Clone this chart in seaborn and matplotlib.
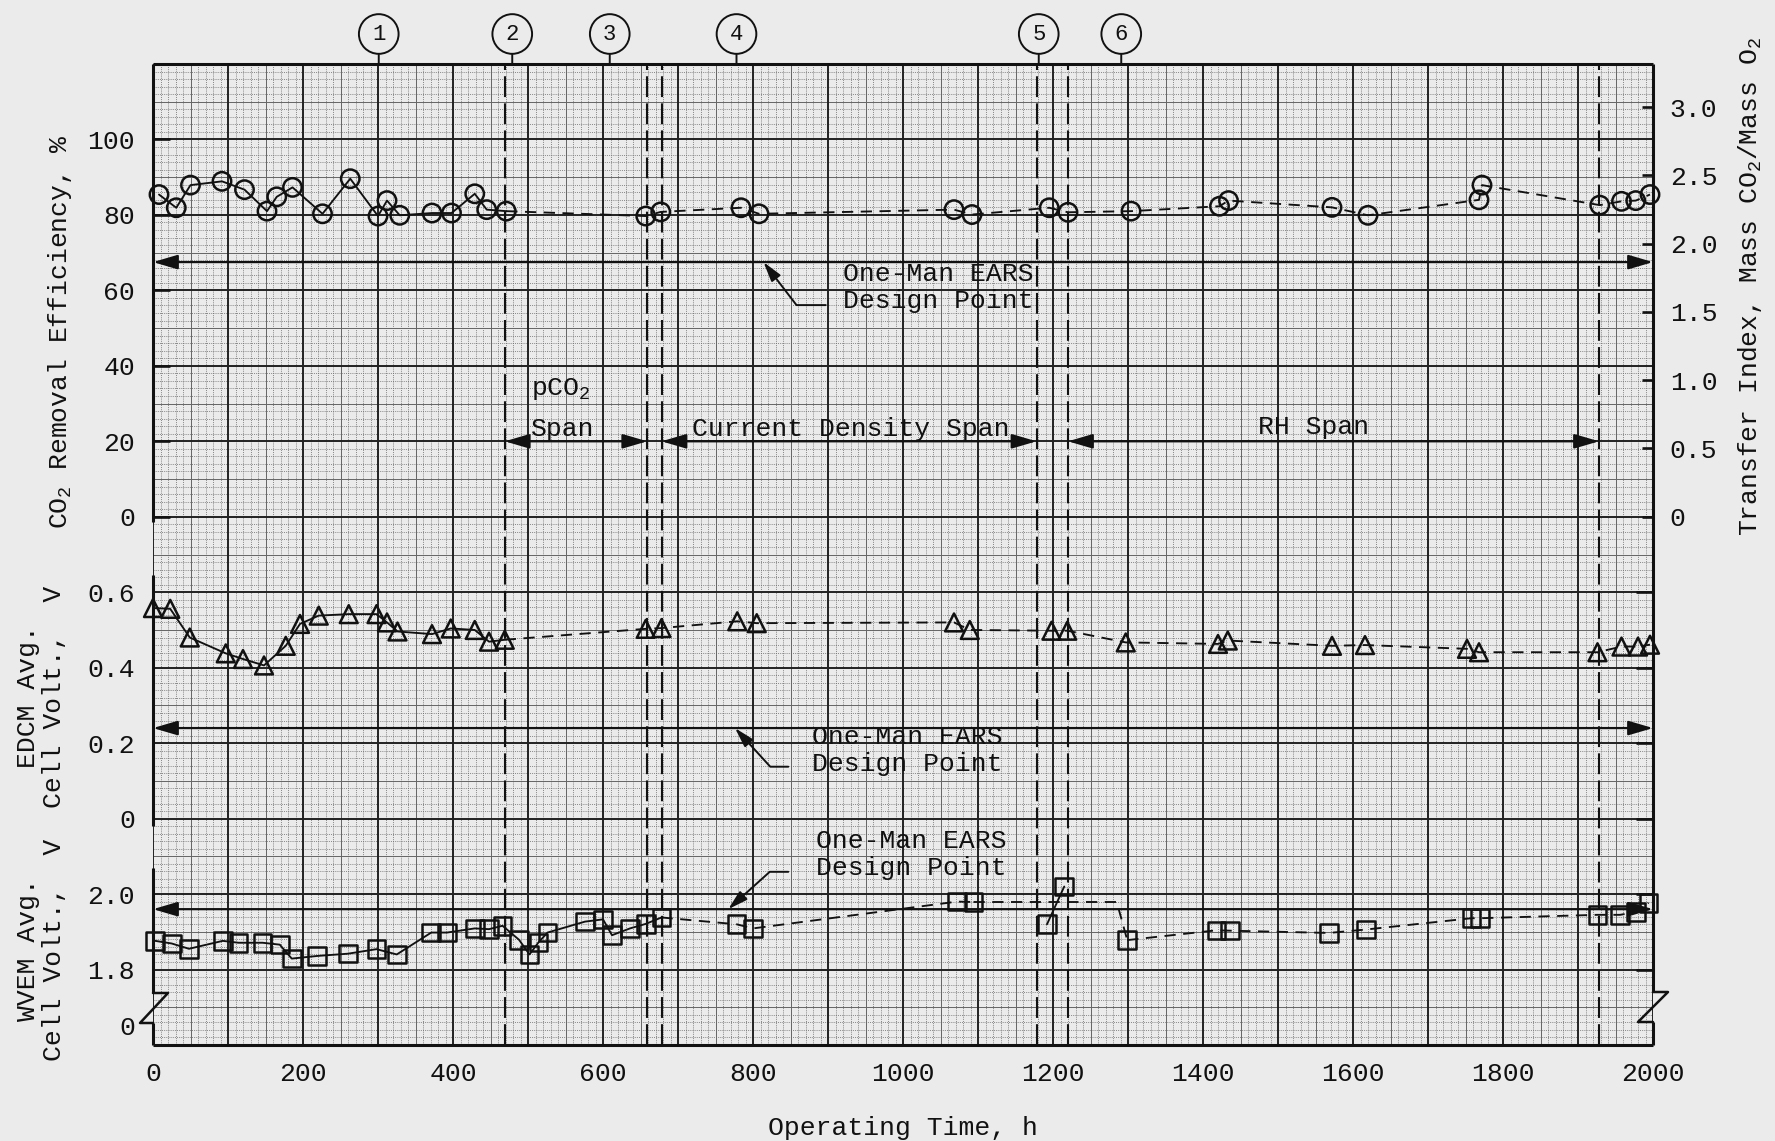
import matplotlib
matplotlib.use("Agg")
import matplotlib.pyplot as plt
from matplotlib.lines import Line2D
import numpy as np
import pandas as pd
import seaborn as sns

# ---------------------------------------------------------------- data
hour_ticks = list(range(0, 2001, 200))

# CO2 removal efficiency, %
co2_hours = [8, 31, 50, 92, 122, 152, 165, 186, 226, 263, 300, 312, 329, 372,
             398, 429, 445, 471, 657, 677, 784, 808, 1068, 1092, 1195, 1220,
             1304, 1422, 1434, 1572, 1620, 1768, 1772, 1929, 1958, 1977, 1996]
co2_eff = [85.4, 81.9, 87.9, 88.9, 86.7, 81.0, 84.8, 87.3, 80.3, 89.6, 79.7,
           83.8, 79.9, 80.5, 80.5, 85.6, 81.4, 81.0, 79.7, 80.8, 81.9, 80.3,
           81.4, 80.1, 81.9, 80.7, 81.0, 82.3, 83.8, 82.0, 79.9, 84.0, 87.9,
           82.6, 83.6, 83.8, 85.4]
co2_ticks = [0, 20, 40, 60, 80, 100]
transfer_ticks = [0, 0.5, 1.0, 1.5, 2.0, 2.5, 3.0]
transfer_labels = ["0", "0.5", "1.0", "1.5", "2.0", "2.5", "3.0"]

# EDCM average cell voltage, V
edcm_hours = [0, 23, 49, 97, 120, 148, 177, 196, 221, 261, 298, 312, 326, 372,
              397, 429, 448, 469, 657, 678, 779, 805, 1068, 1089, 1198, 1219,
              1297, 1420, 1433, 1572, 1616, 1752, 1768, 1926, 1958, 1980, 1996]
edcm_volt = [0.558, 0.556, 0.480, 0.438, 0.423, 0.406, 0.458, 0.516, 0.538,
             0.542, 0.542, 0.520, 0.496, 0.489, 0.504, 0.500, 0.469, 0.474,
             0.503, 0.505, 0.523, 0.518, 0.520, 0.500, 0.498, 0.498, 0.467,
             0.463, 0.472, 0.458, 0.460, 0.450, 0.441, 0.441, 0.456, 0.456,
             0.461]
edcm_ticks = [0, 0.2, 0.4, 0.6]
edcm_labels = ["0", "0.2", "0.4", "0.6"]

# WVEM average cell voltage, V
wvem_hours = [3, 25, 48, 93, 114, 146, 169, 185, 219, 260, 298, 325, 371, 392,
              429, 448, 466, 488, 502, 514, 526, 576, 600, 612, 636, 657, 678,
              778, 800, 1072, 1094, 1192, 1215, 1299, 1418, 1436, 1568, 1617,
              1758, 1769, 1926, 1956, 1977, 1994]
wvem_volt = [1.876, 1.869, 1.855, 1.876, 1.871, 1.871, 1.866, 1.829, 1.836,
             1.842, 1.854, 1.840, 1.898, 1.898, 1.909, 1.907, 1.916, 1.879,
             1.840, 1.872, 1.898, 1.927, 1.933, 1.891, 1.909, 1.921, 1.938,
             1.920, 1.909, 1.980, 1.979, 1.920, 2.020, 1.878, 1.904, 1.903,
             1.897, 1.906, 1.936, 1.936, 1.945, 1.945, 1.952, 1.977]
wvem_step_hours = [1094, 1285, 1299]
wvem_step_volt = [1.979, 1.979, 1.878]
wvem_link_hours = [1192, 1215]
wvem_link_volt = [1.920, 2.020]
wvem_ticks = [1.8, 2.0]
wvem_labels = ["1.8", "2.0"]
wvem_zero_mark = 1.653          # where the broken axis shows its "0"

# test phases
boundary_hours = [469, 659, 678, 1178, 1220, 1928]
event_hours = [301, 479, 609, 778, 1181, 1291]
event_labels = ["1", "2", "3", "4", "5", "6"]
span_start = [469, 678, 1220]
span_end = [659, 1178, 1928]
span_level = 20                 # % on the efficiency scale

# one-man EARS design points
design_co2 = 67.5
design_edcm = 0.24
design_wvem = 1.96

# ---------------------------------------------------------------- style
PAPER = "#ebebeb"
INK = "#111111"
sns.set_style("white")
plt.rcParams.update({
    "font.family": ["Liberation Mono", "DejaVu Sans Mono"],
    "font.size": 19,
    "mathtext.fontset": "custom",
    "mathtext.rm": "Liberation Mono",
    "mathtext.it": "Liberation Mono",
    "mathtext.bf": "Liberation Mono",
    "text.color": INK,
    "axes.labelcolor": INK,
    "xtick.color": INK,
    "ytick.color": INK,
})

W, H = 1775, 1141
L, R, T, B = 153, 1653, 64, 1045
ROWS = 13
fig = plt.figure(figsize=(W / 100, H / 100), dpi=100, facecolor=PAPER)
rect = [L / W, 1 - B / H, (R - L) / W, (B - T) / H]

# ---------------------------------------------------------------- graph paper
paper = fig.add_axes(rect, label="paper")
paper.set_facecolor(PAPER)
paper.vlines(np.arange(0, 2001, 10), 0, ROWS, colors="#6c6c6c", lw=0.55,
             linestyles=(0, (1.3, 1.5)), zorder=0.2)
paper.hlines(np.linspace(0, ROWS, ROWS * 10 + 1), 0, 2000, colors="#6c6c6c",
             lw=0.55, linestyles=(0, (1.3, 1.5)), zorder=0.2)
paper.vlines(np.arange(50, 2000, 100), 0, ROWS, colors="#666666", lw=0.7, zorder=0.3)
paper.hlines(np.arange(0.5, ROWS, 1.0), 0, 2000, colors="#666666", lw=0.7, zorder=0.3)
paper.vlines(np.arange(0, 2001, 100), 0, ROWS, colors="#222222", lw=1.4, zorder=0.4)
paper.hlines(np.arange(0, ROWS + 1, 1.0), 0, 2000, colors="#222222", lw=1.4, zorder=0.4)
paper.vlines(boundary_hours, 0, ROWS, colors=INK, lw=1.5,
             linestyles=(0, (10, 3)), zorder=0.6)
paper.set_xlim(0, 2000)
paper.set_ylim(0, ROWS)
for s in paper.spines.values():
    s.set_visible(False)
paper.set_yticks([])
paper.set_xticks(hour_ticks)
paper.set_xticklabels([str(h) for h in hour_ticks])
paper.tick_params(axis="x", length=0, pad=12, labelsize=19)
paper.set_xlabel("Operating Time, h", labelpad=22, fontsize=19)

# frame: heavy top/bottom/right, left edge broken between the scales
frame = dict(color=INK, lw=2.2, transform=paper.transAxes, clip_on=False,
             solid_capstyle="butt")
fy = lambda py: (B - py) / (B - T)
paper.add_line(Line2D([0, 1], [1, 1], **frame))
paper.add_line(Line2D([0, 1], [0, 0], **frame))
paper.add_line(Line2D([1, 1], [1, fy(992)], **frame))
paper.add_line(Line2D([1, 1], [fy(1022), 0], **frame))
for top, bot in [(64, 522), (575, 826), (868, 993), (1023, 1045)]:
    paper.add_line(Line2D([0, 0], [fy(top), fy(bot)], **frame))
fx = lambda px: (px - L) / (R - L)
zz = dict(color=INK, lw=1.8, transform=paper.transAxes, clip_on=False)
paper.add_line(Line2D([fx(153), fx(168), fx(140), fx(153)],
                      [fy(993), fy(993), fy(1023), fy(1023)], **zz))
paper.add_line(Line2D([fx(1653), fx(1668), fx(1638), fx(1653)],
                      [fy(992), fy(992), fy(1022), fy(1022)], **zz))

# circled phase markers above the frame
for h, lab in zip(event_hours, event_labels):
    paper.annotate(lab, xy=(h, 1), xycoords=("data", "axes fraction"),
                   xytext=(0, 30), textcoords="offset pixels",
                   ha="center", va="center", fontsize=16,
                   bbox=dict(boxstyle="circle,pad=0.42", fc="none", ec=INK, lw=1.4),
                   arrowprops=dict(arrowstyle="-", lw=1.4, color=INK,
                                   shrinkA=0, shrinkB=0),
                   annotation_clip=False)


# ---------------------------------------------------------------- scales
def limits(value, row, per_row):
    return value - row * per_row, value + (ROWS - row) * per_row


def overlay(name, lo, hi):
    ax = fig.add_axes(rect, label=name)
    ax.patch.set_visible(False)
    for s in ax.spines.values():
        s.set_visible(False)
    ax.set_xlim(0, 2000)
    ax.set_ylim(lo, hi)
    ax.set_xticks([])
    return ax


TICK = dict(direction="in", width=1.9, labelsize=19, pad=13)

ax_co2 = overlay("co2", *limits(0, 7, 20))
ax_ti = ax_co2.twinx()
ax_ti.patch.set_visible(False)
for s in ax_ti.spines.values():
    s.set_visible(False)
ax_ti.set_ylim(*limits(0, 7, 1 / 1.81))
ax_ti.set_xticks([])

ax_edcm = overlay("edcm", *limits(0, 3, 0.2))
ax_wvem = overlay("wvem", *limits(2.0, 2, 0.2))

ax_co2.set_yticks(co2_ticks)
ax_co2.set_yticklabels([str(v) for v in co2_ticks])
ax_co2.tick_params(axis="y", length=12, **TICK)
ax_ti.set_yticks(transfer_ticks)
ax_ti.set_yticklabels(transfer_labels)
ax_ti.tick_params(axis="y", length=8, direction="in", width=1.9,
                  labelsize=19, pad=12)
ax_edcm.set_yticks(edcm_ticks)
ax_edcm.set_yticklabels(edcm_labels)
ax_edcm.tick_params(axis="y", length=12, right=True, labelright=False, **TICK)
ax_wvem.set_yticks([wvem_zero_mark] + wvem_ticks)
ax_wvem.set_yticklabels(["0"] + wvem_labels)
ax_wvem.tick_params(axis="y", length=12, right=True, labelright=False, **TICK)
first = ax_wvem.yaxis.get_major_ticks()[0]
first.tick1line.set_visible(False)
first.tick2line.set_visible(False)


# ---------------------------------------------------------------- series
DASH = (0, (6, 4))


def trace(ax, frame_, ls="-"):
    sns.lineplot(data=frame_, x="h", y="v", ax=ax, sort=False, estimator=None,
                 color=INK, lw=1.35, linestyle=ls, zorder=3)


def points(ax, frame_, marker, size):
    sns.scatterplot(data=frame_, x="h", y="v", ax=ax, marker=marker, s=size,
                    color=INK, linewidth=1.8, zorder=4, clip_on=False)
    ax.collections[-1].set_facecolor("none")
    ax.collections[-1].set_edgecolor(INK)


co2 = pd.DataFrame({"h": co2_hours, "v": co2_eff})
trace(ax_co2, co2[co2.h <= 471])
trace(ax_co2, co2[co2.h >= 471], DASH)
points(ax_co2, co2, "o", 175)

edcm = pd.DataFrame({"h": edcm_hours, "v": edcm_volt})
trace(ax_edcm, edcm[edcm.h <= 469])
trace(ax_edcm, edcm[edcm.h >= 469], DASH)
points(ax_edcm, edcm, "^", 165)

wvem = pd.DataFrame({"h": wvem_hours, "v": wvem_volt})
trace(ax_wvem, wvem[wvem.h <= 678])
trace(ax_wvem, wvem[(wvem.h >= 678) & (wvem.h <= 1094)], DASH)
trace(ax_wvem, pd.DataFrame({"h": wvem_step_hours, "v": wvem_step_volt}), DASH)
trace(ax_wvem, pd.DataFrame({"h": wvem_link_hours, "v": wvem_link_volt}))
trace(ax_wvem, wvem[wvem.h >= 1299], DASH)
points(ax_wvem, wvem, "s", 160)

for ax in (ax_co2, ax_edcm, ax_wvem):
    ax.set_xlabel("")
    ax.set_ylabel("")
    ax.set_xlim(0, 2000)
ax_co2.set_ylim(*limits(0, 7, 20))
ax_edcm.set_ylim(*limits(0, 3, 0.2))
ax_wvem.set_ylim(*limits(2.0, 2, 0.2))

# ---------------------------------------------------------------- annotations
BOTH = dict(arrowstyle="<|-|>,head_length=0.75,head_width=0.22",
            mutation_scale=20, lw=1.6, color=INK, shrinkA=0, shrinkB=0)
for ax, level in [(ax_co2, design_co2), (ax_edcm, design_edcm),
                  (ax_wvem, design_wvem)]:
    ax.annotate("", xy=(0, level), xytext=(2000, level), arrowprops=BOTH,
                annotation_clip=False)

for a, b in zip(span_start, span_end):
    ax_co2.annotate("", xy=(a, span_level), xytext=(b, span_level),
                    arrowprops=BOTH, annotation_clip=False)
ax_co2.text(504, 32.4, "pCO$_2$", va="baseline")
ax_co2.text(504, 21.3, "Span", va="baseline")
ax_co2.text(719, 21.3, "Current Density Span", va="baseline")
ax_co2.text(1548, 21.9, "RH Span", ha="center", va="baseline")


def leader(ax, tip_h, level, start_h, start_v, angle, text_h, text_v):
    ax.annotate("", xy=(tip_h, level), xytext=(start_h, start_v),
                arrowprops=dict(arrowstyle="-|>,head_length=0.6,head_width=0.17",
                                mutation_scale=20, lw=1.4, color=INK,
                                shrinkA=0, shrinkB=0,
                                connectionstyle=f"angle,angleA=0,angleB={angle},rad=0"))
    ax.text(text_h, text_v, "One-Man EARS\nDesign Point", ha="left",
            va="center", linespacing=1.15)


leader(ax_co2, 814, design_co2, 897, 56.1, -52.5, 920, 60.7)
leader(ax_edcm, 776, design_edcm, 847, 0.1376, -47.6, 879, 0.1806)
leader(ax_wvem, 767, design_wvem, 847, 2.059, 42.0, 884, 2.104)

# ---------------------------------------------------------------- axis titles
fig.text(60 / W, 1 - 332 / H, "CO$_2$ Removal Efficiency, %", rotation=90,
         ha="center", va="center", fontsize=19)
fig.text(41 / W, 1 - 697 / H, "EDCM Avg.\nCell Volt.,  V", rotation=90,
         ha="center", va="center", multialignment="center", fontsize=19,
         linespacing=1.1)
fig.text(41 / W, 1 - 950 / H, "WVEM Avg.\nCell Volt.,  V", rotation=90,
         ha="center", va="center", multialignment="center", fontsize=19,
         linespacing=1.1)
fig.text(1750 / W, 1 - 287 / H, "Transfer Index, Mass CO$_2$/Mass O$_2$",
         rotation=90, ha="center", va="center", fontsize=19)

fig.savefig("out.png", dpi=100, facecolor=PAPER)
